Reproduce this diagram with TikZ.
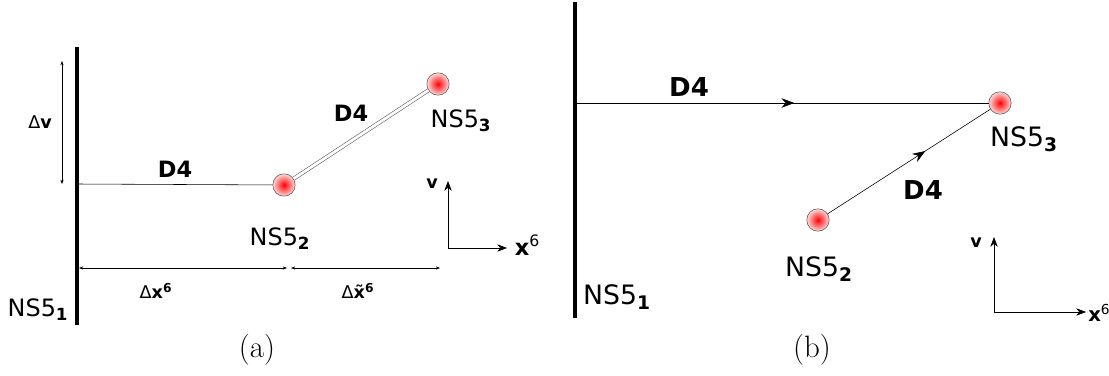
\documentclass[tikz,border=0pt]{standalone}
\usepackage{fontspec}
\newfontfamily\labelfont{DejaVu Sans}
\usetikzlibrary{positioning,arrows.meta,decorations.markings}

\begin{document}
\begin{tikzpicture}[
            x=0.025cm, y=-0.025cm,
            brane/.style={line width=2.6pt},
            nsball/.style={circle, draw=gray!70!black, minimum size=0.56cm, inner sep=0pt,
                       inner color=red, outer color=red!15},
            nslabel/.style={font=\labelfont\fontsize{17}{17}\selectfont},
            nslabelb/.style={font=\labelfont\fontsize{19}{19}\selectfont},
            dlabel/.style={font=\labelfont\bfseries\fontsize{16}{16}\selectfont},
            dlabelb/.style={font=\labelfont\bfseries\fontsize{18.5}{18.5}\selectfont},
            dimlabel/.style={font=\labelfont\fontsize{12.5}{12.5}\selectfont},
            dimarrow/.style={{Stealth[length=3pt]}-{Stealth[length=3pt]}, thin},
            axisarrow/.style={-{Stealth[length=7pt]}, thin},
            midarrow/.style={postaction={decorate}, decoration={markings,
                       mark=at position #1 with {\arrow{Stealth[length=9pt]}}}}
        ]
            \useasboundingbox (0,0) rectangle (1109,375);

            % (a) brane picture
            \draw[brane] (77,47) -- (77,325);
            \coordinate (a-d4) at (77,184);
            \node[nsball] (a-ns2) at (284,185) {};
            \node[nsball] (a-ns3) at (438,84) {};
            \draw[thin] (a-d4) -- (a-ns2);
            \draw[draw=gray!70!black, double=white, double distance=2pt] (a-ns2) -- (a-ns3);

            \node[nslabel] (a-ns1) at (38,310) {NS5\textsubscript{\textbf{1}}};
            \node[nslabel] (a-ns2l) at (280,239) {NS5\textsubscript{\textbf{2}}};
            \node[nslabel] (a-ns3l) at (461,121) {NS5\textsubscript{\textbf{3}}};
            \node[dlabel] (a-d4l) at (175,169) {D4};
            \node[dlabel] (a-d4r) at (351,113) {D4};

            % distances
            \coordinate (a-vtop) at (62,61);
            \coordinate (a-vbot) at (62,184);
            \draw[dimarrow] (a-vtop) -- (a-vbot);
            \node[dimlabel] (a-dv) at (40,122) {Δ\textbf{v}};
            \coordinate (a-h0) at (79,268);
            \coordinate (a-h1) at (287,268);
            \coordinate (a-h2) at (291,268);
            \coordinate (a-h3) at (440,268);
            \draw[dimarrow] (a-h0) -- (a-h1);
            \draw[dimarrow] (a-h2) -- (a-h3);
            \node[dimlabel] (a-dx) at (156,291) {Δ\textbf{x}\textsuperscript{\textbf{6}}};
            \node[dimlabel] (a-dxt) at (358,291) {Δ\textbf{\~{x}}\textsuperscript{\textbf{6}}};

            % axes
            \coordinate (a-o) at (448,248);
            \coordinate (a-oy) at (448,181);
            \coordinate (a-ox) at (507,248);
            \draw[axisarrow] (a-o) -- (a-oy);
            \draw[axisarrow] (a-o) -- (a-ox);
            \node[dimlabel] (a-v) at (432,184) {\textbf{v}};
            \node[dlabel, right=2pt of a-ox, yshift=2pt] (a-x6) {x\textsuperscript{\mdseries 6}};

            \node[font=\fontsize{22}{24}\selectfont] (cap-a) at (257,350) {(a)};

            % (b) brane picture
            \draw[brane] (575,2) -- (575,318);
            \coordinate (b-d4) at (575,103);
            \node[nsball] (b-ns3) at (1000,103) {};
            \node[nsball] (b-ns2) at (818,220) {};
            \draw[thin, midarrow=0.53] (b-d4) -- (b-ns3);
            \draw[thin, midarrow=0.6] (b-ns2) -- (b-ns3);

            \node[nslabelb] (b-ns1) at (617,297) {NS5\textsubscript{\textbf{1}}};
            \node[nslabelb] (b-ns2l) at (819,269) {NS5\textsubscript{\textbf{2}}};
            \node[nslabelb] (b-ns3l) at (1024,139) {NS5\textsubscript{\textbf{3}}};
            \node[dlabelb] (b-d4t) at (689,87) {D4};
            \node[dlabelb] (b-d4s) at (923,190) {D4};

            % axes
            \coordinate (b-o) at (994,312);
            \coordinate (b-oy) at (994,237);
            \coordinate (b-ox) at (1086,312);
            \draw[axisarrow] (b-o) -- (b-oy);
            \draw[axisarrow] (b-o) -- (b-ox);
            \node[dimlabel] (b-v) at (976,243) {\textbf{v}};
            \node[font=\labelfont\bfseries\fontsize{14}{14}\selectfont, anchor=west, inner sep=0pt]
                (b-x6) at (1088,313) {x\textsuperscript{\mdseries 6}};

            \node[font=\fontsize{22}{24}\selectfont] (cap-b) at (812,350) {(b)};
        \end{tikzpicture}
\end{document}
